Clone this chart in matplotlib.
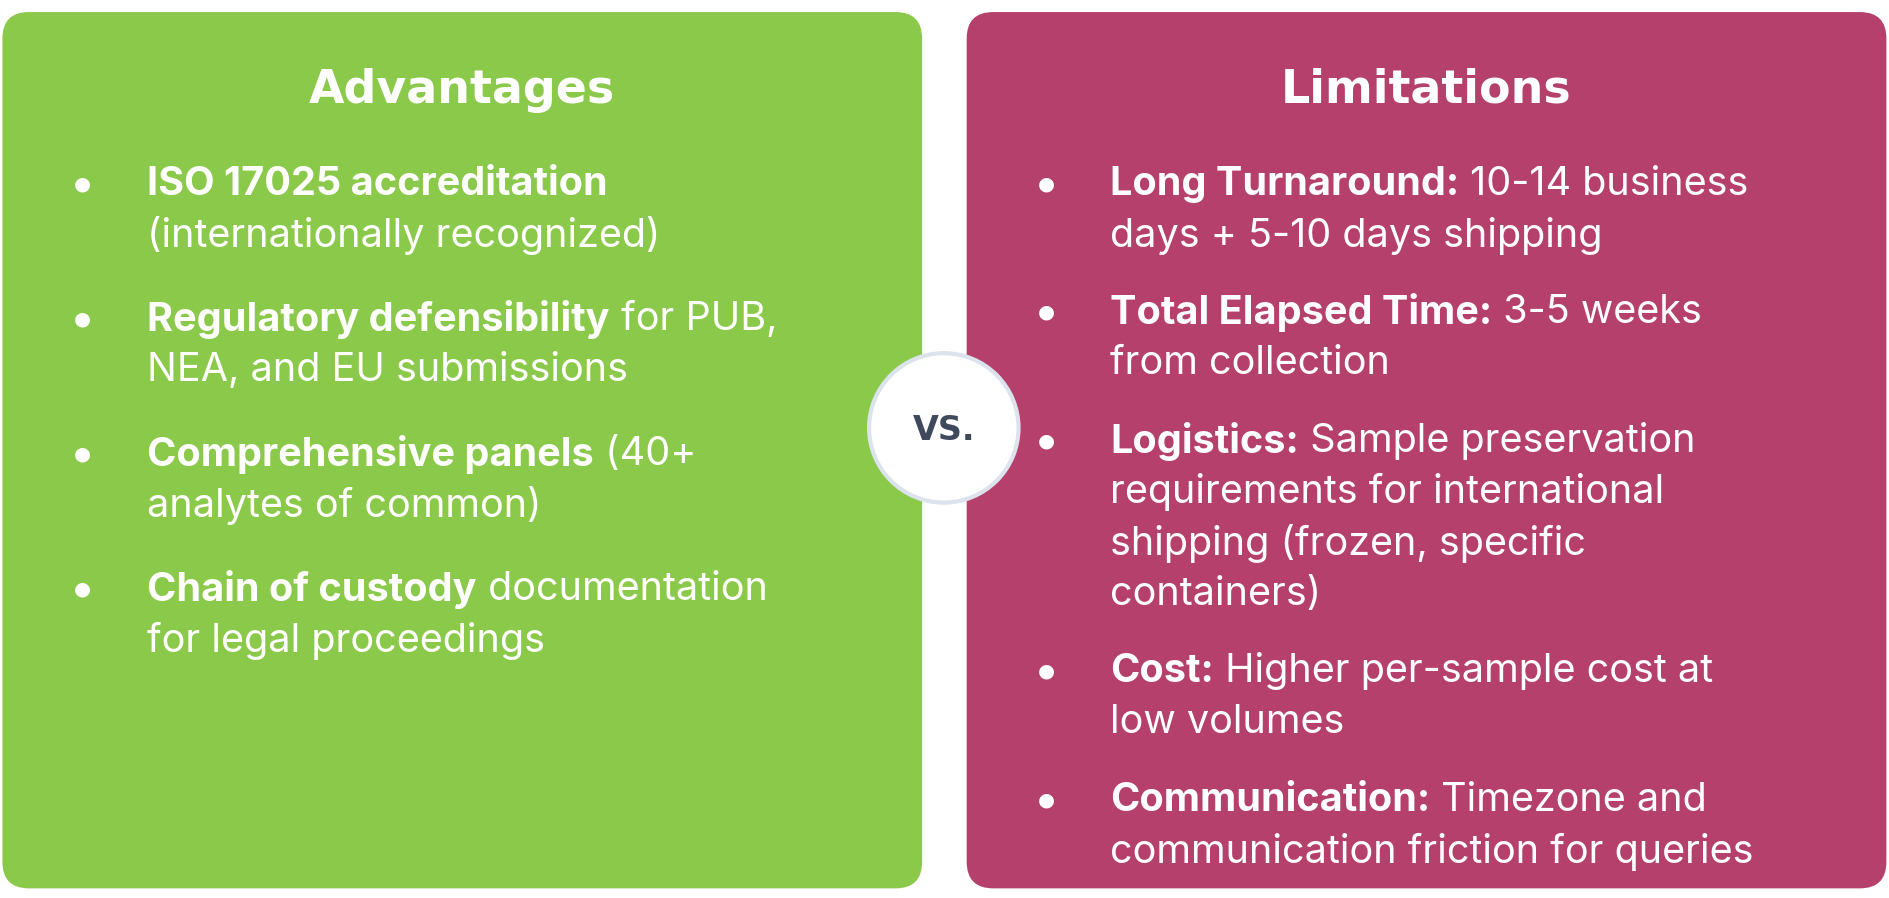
import matplotlib
matplotlib.use("Agg")
import matplotlib.pyplot as plt
from matplotlib.patches import FancyBboxPatch, Circle

W, H = 1568, 745   # reference layout units (px)

titles = ["Advantages", "Limitations"]
adv_items = [
    [("ISO 17025 accreditation", ""), ("", "(internationally recognized)")],
    [("Regulatory defensibility", " for PUB,"), ("", "NEA, and EU submissions")],
    [("Comprehensive panels", " (40+"), ("", "analytes of common)")],
    [("Chain of custody", " documentation"), ("", "for legal proceedings")],
]
lim_items = [
    [("Long Turnaround:", " 10-14 business"), ("", "days + 5-10 days shipping")],
    [("Total Elapsed Time:", " 3-5 weeks"), ("", "from collection")],
    [("Logistics:", " Sample preservation"), ("", "requirements for international"),
     ("", "shipping (frozen, specific"), ("", "containers)")],
    [("Cost:", " Higher per-sample cost at"), ("", "low volumes")],
    [("Communication:", " Timezone and"), ("", "communication friction for queries")],
]
adv_y = [153, 265, 377, 489]
lim_y = [153, 259, 366, 557, 664]
LINE = 42.5

fig = plt.figure(figsize=(18.9, 8.98), dpi=100)
ax = fig.add_axes([0, 0, 1, 1])
ax.set_xlim(0, W)
ax.set_ylim(H, 0)
ax.axis("off")

green, magenta = "#8BC94A", "#B5406B"
for x0, x1, c in [(2, 765, green), (802, 1565, magenta)]:
    ax.add_patch(FancyBboxPatch((x0 + 22, 10 + 22), x1 - x0 - 44, 727 - 44,
                                boxstyle="round,pad=22", fc=c, ec="none"))

title_font = dict(family=["Liberation Sans Narrow", "DejaVu Sans"], fontweight="bold",
                  fontsize=33, color="white", ha="center", va="center")
ax.text(383, 75, titles[0], **title_font)
ax.text(1183, 75, titles[1], **title_font)

FS = 28.5
FAM = ["Inter", "Roboto", "DejaVu Sans"]
fig.canvas.draw()
renderer = fig.canvas.get_renderer()


def draw_items(items, ys, bx, tx):
    for item, y0 in zip(items, ys):
        ax.text(bx, y0, "\u25CF", fontsize=14, color="white", ha="center", va="center")
        for k, (b, n) in enumerate(item):
            y = y0 + k * LINE
            x = tx
            if b:
                t = ax.text(x, y, b, fontsize=FS, fontweight="bold", color="white",
                            family=FAM, va="center", ha="left")
                bb = t.get_window_extent(renderer)
                x += bb.width / fig.bbox.width * W
            if n:
                ax.text(x, y, n, fontsize=FS, color="white", family=FAM,
                        va="center", ha="left")


draw_items(adv_items, adv_y, 68, 122)
draw_items(lim_items, lim_y, 868, 921)

ax.add_patch(Circle((783, 355), 62, fc="white", ec="#DCE3EC", lw=3, zorder=5))
ax.text(783, 357, "VS.", family=["Liberation Sans Narrow", "DejaVu Sans"],
        fontweight="bold", fontsize=24, color="#3E4A5C", ha="center", va="center", zorder=6)

fig.savefig("out.png", dpi=100, facecolor="white")
